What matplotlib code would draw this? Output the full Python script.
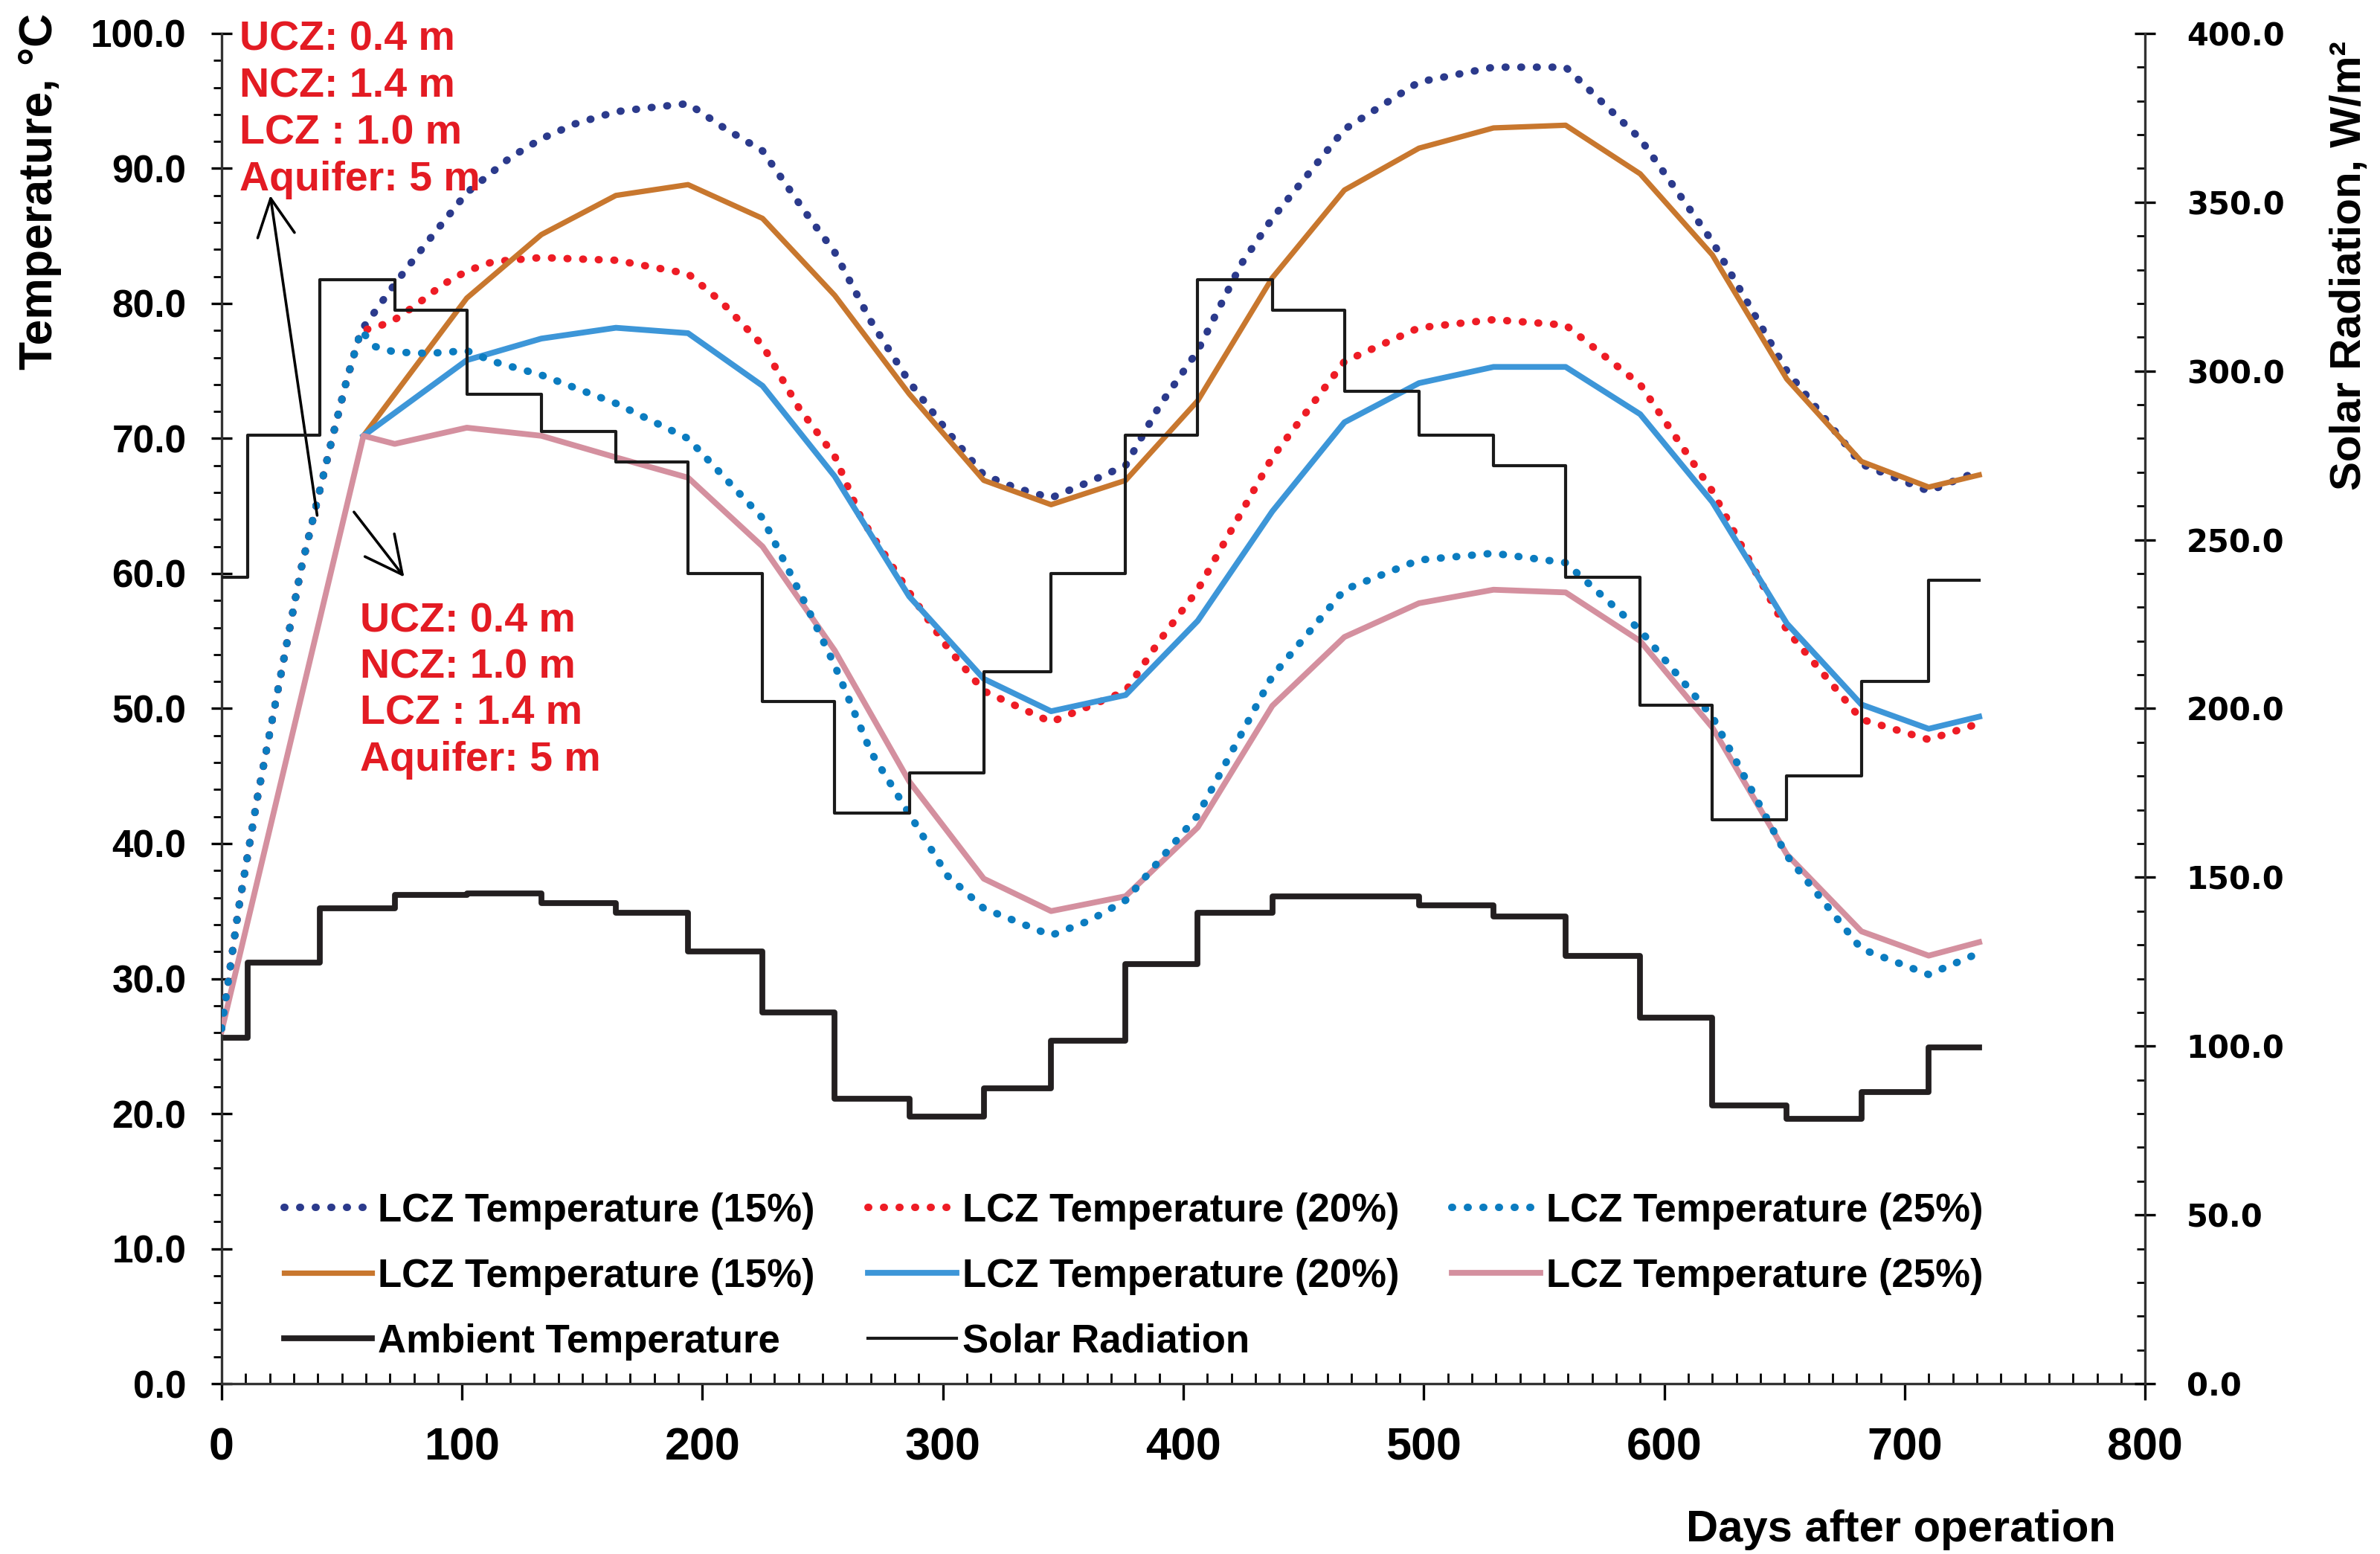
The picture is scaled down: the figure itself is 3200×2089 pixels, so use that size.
import matplotlib
matplotlib.use("Agg")
import matplotlib.pyplot as plt
from matplotlib.ticker import MultipleLocator, FormatStrFormatter

plt.rcParams['font.family'] = ['Liberation Sans', 'DejaVu Sans']
plt.rcParams['font.weight'] = 'bold'

# month boundaries (days after operation) for the step series
month_edges = [0, 11, 41, 72, 102, 133, 164, 194, 225, 255, 286, 317, 345, 376,
               406, 437, 467, 498, 529, 559, 590, 620, 651, 682, 710, 731]
ambient = [25.6, 31.2, 35.2, 36.2, 36.3, 35.6, 34.9, 32.0, 27.5, 21.1, 19.8, 21.9, 25.4,
           31.1, 34.9, 36.1, 36.1, 35.4, 34.6, 31.7, 27.1, 20.6, 19.6, 21.6, 24.9]
solar = [239, 281, 327, 318, 293, 282, 273, 240, 202, 169, 181, 211, 240,
         281, 327, 318, 294, 281, 272, 239, 201, 167, 180, 208, 238]

# solid lines
solid_days = [59, 102, 133, 164, 194, 225, 255, 286, 317, 345, 376, 406, 437, 467,
              498, 529, 559, 590, 620, 651, 682, 710, 731]
lcz_solid_15 = [70.2, 80.4, 85.1, 88.0, 88.8, 86.3, 80.6, 73.3, 66.9, 65.1, 66.9, 72.8,
                81.9, 88.4, 91.5, 93.0, 93.2, 89.6, 83.6, 74.4, 68.3, 66.4, 67.3]
lcz_solid_20 = [70.2, 75.8, 77.4, 78.2, 77.8, 73.9, 67.2, 58.3, 52.2, 49.8, 51.0, 56.5,
                64.6, 71.2, 74.1, 75.3, 75.3, 71.8, 65.3, 56.3, 50.3, 48.5, 49.4]
pink_days = [0, 59, 72, 102, 133, 164, 194, 225, 255, 286, 317, 345, 376, 406, 437, 467,
             498, 529, 559, 590, 620, 651, 682, 710, 731]
lcz_solid_25 = [26.1, 70.2, 69.6, 70.8, 70.2, 68.6, 67.1, 62.0, 54.3, 44.6, 37.4, 35.0,
                36.1, 41.2, 50.2, 55.3, 57.8, 58.8, 58.6, 55.0, 48.6, 39.2, 33.5, 31.7, 32.7]

# dotted lines
dot15_days = [0, 7, 15, 33, 46, 52, 58, 63, 69, 77, 88, 102, 120, 133, 147, 164, 178, 194,
              209, 225, 243, 255, 270, 286, 302, 317, 331, 345, 361, 376, 390, 406, 424,
              437, 467, 498, 529, 559, 590, 620, 651, 682, 710, 731]
lcz_dot_15 = [26.3, 35.1, 43.5, 60.3, 70.0, 74.3, 78.0, 79.2, 80.7, 82.6, 85.1, 88.2, 90.8,
              92.2, 93.3, 94.2, 94.5, 94.8, 93.0, 91.3, 86.7, 83.8, 78.7, 74.2, 70.5, 67.3,
              66.3, 65.6, 66.8, 68.0, 72.4, 76.5, 82.9, 86.3, 92.9, 96.4, 97.5, 97.5, 92.2,
              84.6, 75.0, 68.1, 66.1, 67.6]
dot20_days = [0, 7, 15, 33, 46, 52, 58, 64, 72, 81, 92, 102, 113, 133, 147, 164, 194, 208,
              225, 240, 255, 266, 286, 302, 317, 345, 376, 390, 406, 437, 467, 498, 529,
              559, 590, 620, 651, 682, 710, 731]
lcz_dot_20 = [26.3, 35.1, 43.5, 60.3, 70.0, 74.3, 78.0, 78.2, 78.8, 79.9, 81.4, 82.4, 83.1,
              83.4, 83.3, 83.2, 82.2, 80.1, 76.9, 72.3, 68.7, 64.1, 58.6, 54.5, 51.3, 49.0,
              51.3, 55.0, 58.8, 68.6, 75.7, 78.2, 78.8, 78.4, 74.0, 66.1, 55.8, 49.2, 47.7, 48.9]
dot25_days = [0, 7, 15, 33, 46, 52, 58, 64, 72, 86, 102, 113, 133, 164, 194, 225, 243, 255,
              270, 286, 302, 317, 345, 361, 376, 406, 437, 467, 498, 529, 559, 590, 620,
              651, 682, 710, 731]
lcz_dot_25 = [26.3, 35.1, 43.5, 60.3, 70.0, 74.3, 78.0, 76.8, 76.4, 76.3, 76.5, 75.7, 74.7,
              72.6, 70.0, 64.1, 57.7, 53.2, 46.8, 42.2, 37.6, 35.2, 33.2, 34.3, 35.8, 42.1,
              52.4, 58.8, 61.0, 61.5, 60.8, 55.8, 49.4, 39.1, 32.2, 30.3, 31.9]

note_top = ["UCZ: 0.4 m", "NCZ: 1.4 m", "LCZ : 1.0 m", "Aquifer: 5 m"]
note_mid = ["UCZ: 0.4 m", "NCZ: 1.0 m", "LCZ : 1.4 m", "Aquifer: 5 m"]

fig = plt.figure(figsize=(16, 10.445), dpi=200)
ax = fig.add_axes([0.0931, 0.1096, 0.8082, 0.8689])
ax2 = ax.twinx()

dots = dict(linestyle=(0, (0.1, 2.0)), dash_capstyle='round', lw=3.6)
l_d15, = ax.plot(dot15_days, lcz_dot_15, color='#2b3a8c', label='LCZ Temperature (15%)', zorder=3, **dots)
l_d20, = ax.plot(dot20_days, lcz_dot_20, color='#ee1c25', label='LCZ Temperature (20%)', zorder=3, **dots)
l_s15, = ax.plot(solid_days, lcz_solid_15, color='#c8772e', lw=2.6, label='LCZ Temperature (15%)', zorder=4)
l_s20, = ax.plot(solid_days, lcz_solid_20, color='#3d96d8', lw=2.8, label='LCZ Temperature (20%)', zorder=4)
l_s25, = ax.plot(pink_days, lcz_solid_25, color='#d4909f', lw=2.8, label='LCZ Temperature (25%)', zorder=4)
l_d25, = ax.plot(dot25_days, lcz_dot_25, color='#0b7cc0', label='LCZ Temperature (25%)', zorder=5, **dots)
l_amb, = ax.step(month_edges, ambient + [ambient[-1]], where='post', color='#231f20', lw=2.8,
                 label='Ambient Temperature', zorder=2)
l_sol, = ax2.step(month_edges, solar + [solar[-1]], where='post', color='#1a1a1a', lw=1.5,
                  label='Solar Radiation', zorder=2)

ax.set_xlim(0, 800)
ax.set_ylim(0, 100)
ax2.set_ylim(0, 400)

ax.xaxis.set_major_locator(MultipleLocator(100))
ax.xaxis.set_minor_locator(MultipleLocator(10))
ax.yaxis.set_major_locator(MultipleLocator(10))
ax.yaxis.set_minor_locator(MultipleLocator(2))
ax.yaxis.set_major_formatter(FormatStrFormatter('%.1f'))
ax2.yaxis.set_major_locator(MultipleLocator(50))
ax2.yaxis.set_minor_locator(MultipleLocator(10))
ax2.yaxis.set_major_formatter(FormatStrFormatter('%.1f'))

ax.tick_params(axis='y', which='major', direction='inout', length=10, width=1.2, pad=12, labelsize=18.5)
ax.tick_params(axis='y', which='minor', direction='out', length=4, width=1)
ax.tick_params(axis='x', which='major', direction='out', length=8, width=1.2, pad=13, labelsize=22)
ax.tick_params(axis='x', which='minor', direction='in', length=5, width=1)
ax2.tick_params(axis='y', which='major', direction='inout', length=10, width=1.2, pad=15, labelsize=15)
ax2.tick_params(axis='y', which='minor', direction='in', length=4, width=1)
for t in ax2.get_yticklabels():
    t.set_fontfamily('DejaVu Sans')
    t.set_fontweight('bold')

for a in (ax, ax2):
    a.spines['top'].set_visible(False)
    for s in a.spines.values():
        s.set_linewidth(1.2)
        s.set_color('#333333')
ax.spines['right'].set_visible(False)
ax2.spines['left'].set_visible(False)
ax2.spines['bottom'].set_visible(False)

ax.text(-0.0945, 0.883, 'Temperature, °C', transform=ax.transAxes, rotation=90,
        ha='center', va='center', fontsize=22.5, fontweight='bold')
ax.text(1.0065 + (3159 - 2901) / 2586, 0.828, 'Solar Radiation, W/m²', transform=ax.transAxes,
        rotation=90, ha='center', va='center', fontsize=21, fontweight='bold')
ax.text(0.873, -0.108, 'Days after operation', transform=ax.transAxes,
        ha='center', va='center', fontsize=21.5, fontweight='bold')

red = '#e31b23'
for i, s in enumerate(note_top):
    ax.text(7.5, 99.55 - 3.47 * i, s, color=red, fontsize=20, fontweight='bold',
            ha='left', va='center', zorder=6)
for i, s in enumerate(note_mid):
    ax.text(57.5, 56.45 - 3.43 * i, s, color=red, fontsize=20, fontweight='bold',
            ha='left', va='center', zorder=6)

arrow = dict(arrowstyle='->', color='black', lw=1.3, mutation_scale=45)
ax.annotate('', xy=(20, 88.3), xytext=(40, 64.0), arrowprops=arrow, zorder=6)
ax.annotate('', xy=(77, 59.5), xytext=(54, 64.8), arrowprops=arrow, zorder=6)

handles = [l_d15, l_s15, l_amb, l_d20, l_s20, l_sol, l_d25, l_s25]
leg = ax.legend(handles=handles, ncol=3, frameon=False, loc='lower left',
                bbox_to_anchor=(0.014, -0.009), handlelength=2.25,
                handletextpad=0.15, columnspacing=1.35, labelspacing=0.72,
                prop={'weight': 'bold', 'size': 19})

fig.savefig('out.png', dpi=200, facecolor='white')
